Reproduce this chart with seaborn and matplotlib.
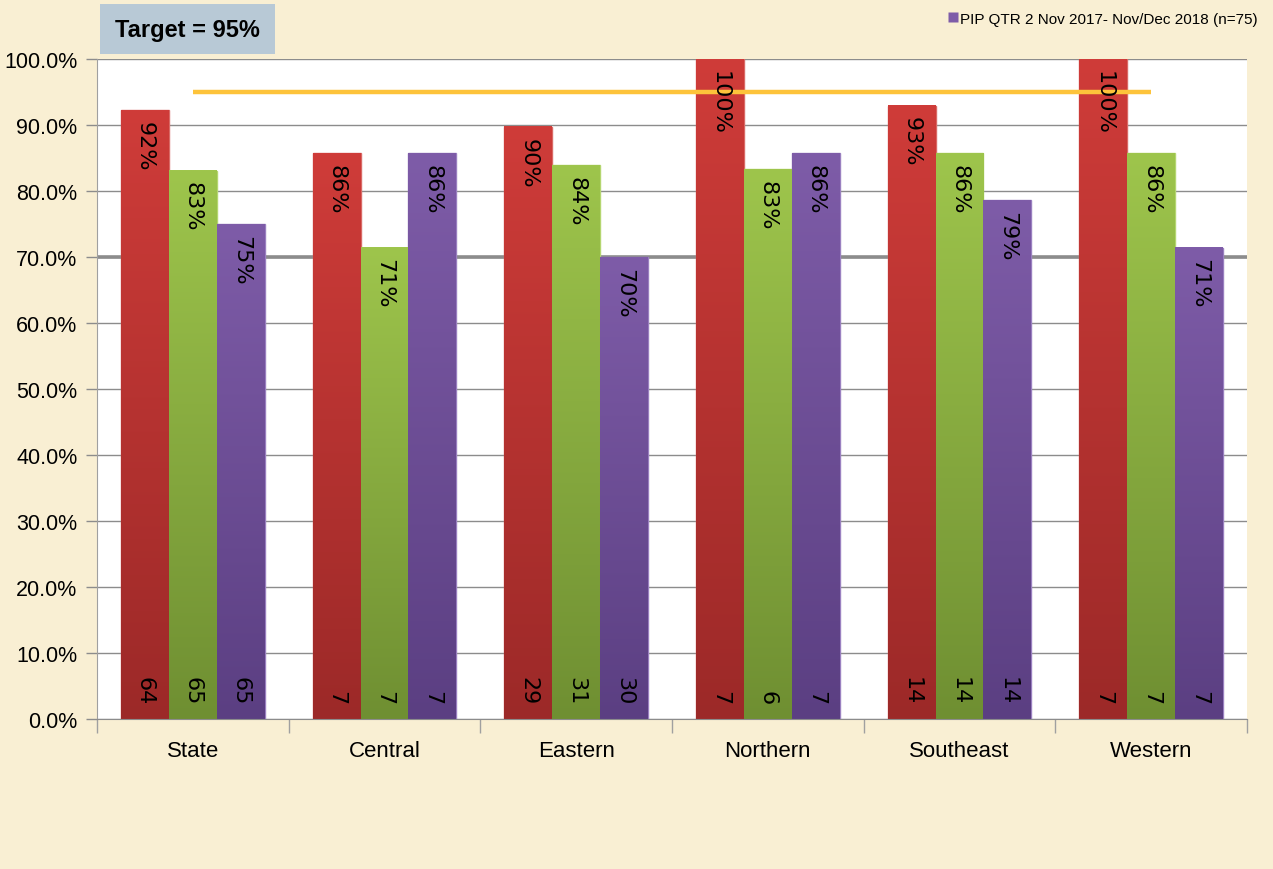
import numpy as np
import pandas as pd
import matplotlib
matplotlib.use("Agg")
import matplotlib.pyplot as plt
import seaborn as sns
from matplotlib.colors import LinearSegmentedColormap
from matplotlib.patches import Rectangle
from matplotlib.lines import Line2D

# 数据
regions = ["State", "Central", "Eastern", "Northern", "Southeast", "Western"]
series_names = ["Series A", "Series B", "PIP QTR 2 Nov 2017- Nov/Dec 2018 (n=75)"]
pct_red = [92.2, 85.7, 89.7, 100.0, 92.9, 100.0]
pct_green = [83.1, 71.4, 83.9, 83.3, 85.7, 85.7]
pct_purple = [75.0, 85.7, 70.0, 85.7, 78.6, 71.4]
n_red = [64, 7, 29, 7, 14, 7]
n_green = [65, 7, 31, 6, 14, 7]
n_purple = [65, 7, 30, 7, 14, 7]
target = 95
y_ticks = [0, 10, 20, 30, 40, 50, 60, 70, 80, 90, 100]

pcts = [pct_red, pct_green, pct_purple]
counts = [n_red, n_green, n_purple]

df = pd.DataFrame({
    "region": regions * 3,
    "series": np.repeat(series_names, len(regions)),
    "pct": pct_red + pct_green + pct_purple,
})

# 颜色（上 → 下 渐变）
top_cols = ["#CF3C39", "#9EC54C", "#7E5CA8"]
bot_cols = ["#9C2928", "#6F8F32", "#5B3F82"]
edge_cols = ["#D96A66", "#B4D670", "#9A80C0"]

narrow = ["Liberation Sans Narrow", "Liberation Sans", "DejaVu Sans"]

fig = plt.figure(figsize=(12.73, 8.70), dpi=100)
fig.patch.set_facecolor("#F9EFD3")
ax = fig.add_axes([97 / 1273, 150 / 870, 1150 / 1273, 660 / 870])
ax.set_facecolor("white")

sns.barplot(data=df, x="region", y="pct", hue="series", order=regions,
            hue_order=series_names, palette=top_cols, width=0.75, gap=0,
            legend=False, ax=ax, zorder=2)

# 渐变填充 + 标签
for k, cont in enumerate(ax.containers):
    cmap = LinearSegmentedColormap.from_list("g%d" % k, [bot_cols[k], top_cols[k]])
    grad = np.linspace(1, 0, 256).reshape(-1, 1)
    for i, p in enumerate(cont.patches):
        x0, w, h = p.get_x(), p.get_width(), p.get_height()
        p.set_edgecolor(edge_cols[k])
        p.set_linewidth(1.0)
        ax.imshow(grad, extent=[x0, x0 + w, 0, h], origin="upper", cmap=cmap,
                  aspect="auto", zorder=2.1, vmin=0, vmax=1)
        xc = x0 + w / 2
        ax.text(xc, h - 1.6, f"{pcts[k][i]:.0f}%", rotation=270, ha="center",
                va="top", fontsize=16, color="black", zorder=4)
        ax.text(xc, 2.2, f"{counts[k][i]}", rotation=270, ha="center",
                va="bottom", fontsize=16, color="black", zorder=4)

ax.set_xlim(-0.5, len(regions) - 0.5)
ax.set_ylim(0, 100)

# 目标线
ax.plot([0, len(regions) - 1], [target, target], color="#FDC33B", lw=3.2,
        zorder=3.5, solid_capstyle="butt")

# 网格
ax.set_yticks(y_ticks)
ax.set_yticklabels([f"{t:.1f}%" for t in y_ticks], fontsize=15.5, family=narrow)
ax.yaxis.grid(True, color="#8C8C8C", lw=1.0, zorder=0)
ax.axhline(70, color="#8C8C8C", lw=2.6, zorder=1)
ax.set_axisbelow(True)
ax.tick_params(axis="y", length=8, width=1, color="#8C8C8C", pad=6)

ax.set_xticks(range(len(regions)))
ax.set_xticklabels(regions, fontsize=16, family=narrow)
ax.set_xticks(np.arange(-0.5, len(regions)), minor=True)
ax.tick_params(axis="x", which="major", length=0, pad=15)
ax.tick_params(axis="x", which="minor", length=10, width=1, color="#A0A0A0")
ax.set_xlabel("")
ax.set_ylabel("")
for s in ["top", "right"]:
    ax.spines[s].set_visible(False)
ax.spines["left"].set_color("#A0A0A0")
ax.spines["bottom"].set_color("#8C8C8C")

# 目标框
fig.patches.append(Rectangle((100 / 1273, 1 - 55 / 870), 175 / 1273, 50 / 870,
                             transform=fig.transFigure, facecolor="#B8C9D6",
                             edgecolor="none", zorder=0))
fig.text(115 / 1273, 1 - 31 / 870, "Target = 95%", fontsize=17, fontweight="bold",
         family=narrow, va="center", ha="left")

# 图例（仅显示紫色系列）
handle = Line2D([], [], marker="s", linestyle="none", markersize=7,
                markerfacecolor=top_cols[2], markeredgecolor="none")
fig.legend([handle], [series_names[2]], loc="upper right",
           bbox_to_anchor=(1268 / 1273, 1 - 2 / 870), frameon=False,
           prop={"family": narrow, "size": 11}, handletextpad=0.05,
           handlelength=0.8, borderpad=0.2)

plt.savefig("out.png", dpi=100, facecolor=fig.get_facecolor())
